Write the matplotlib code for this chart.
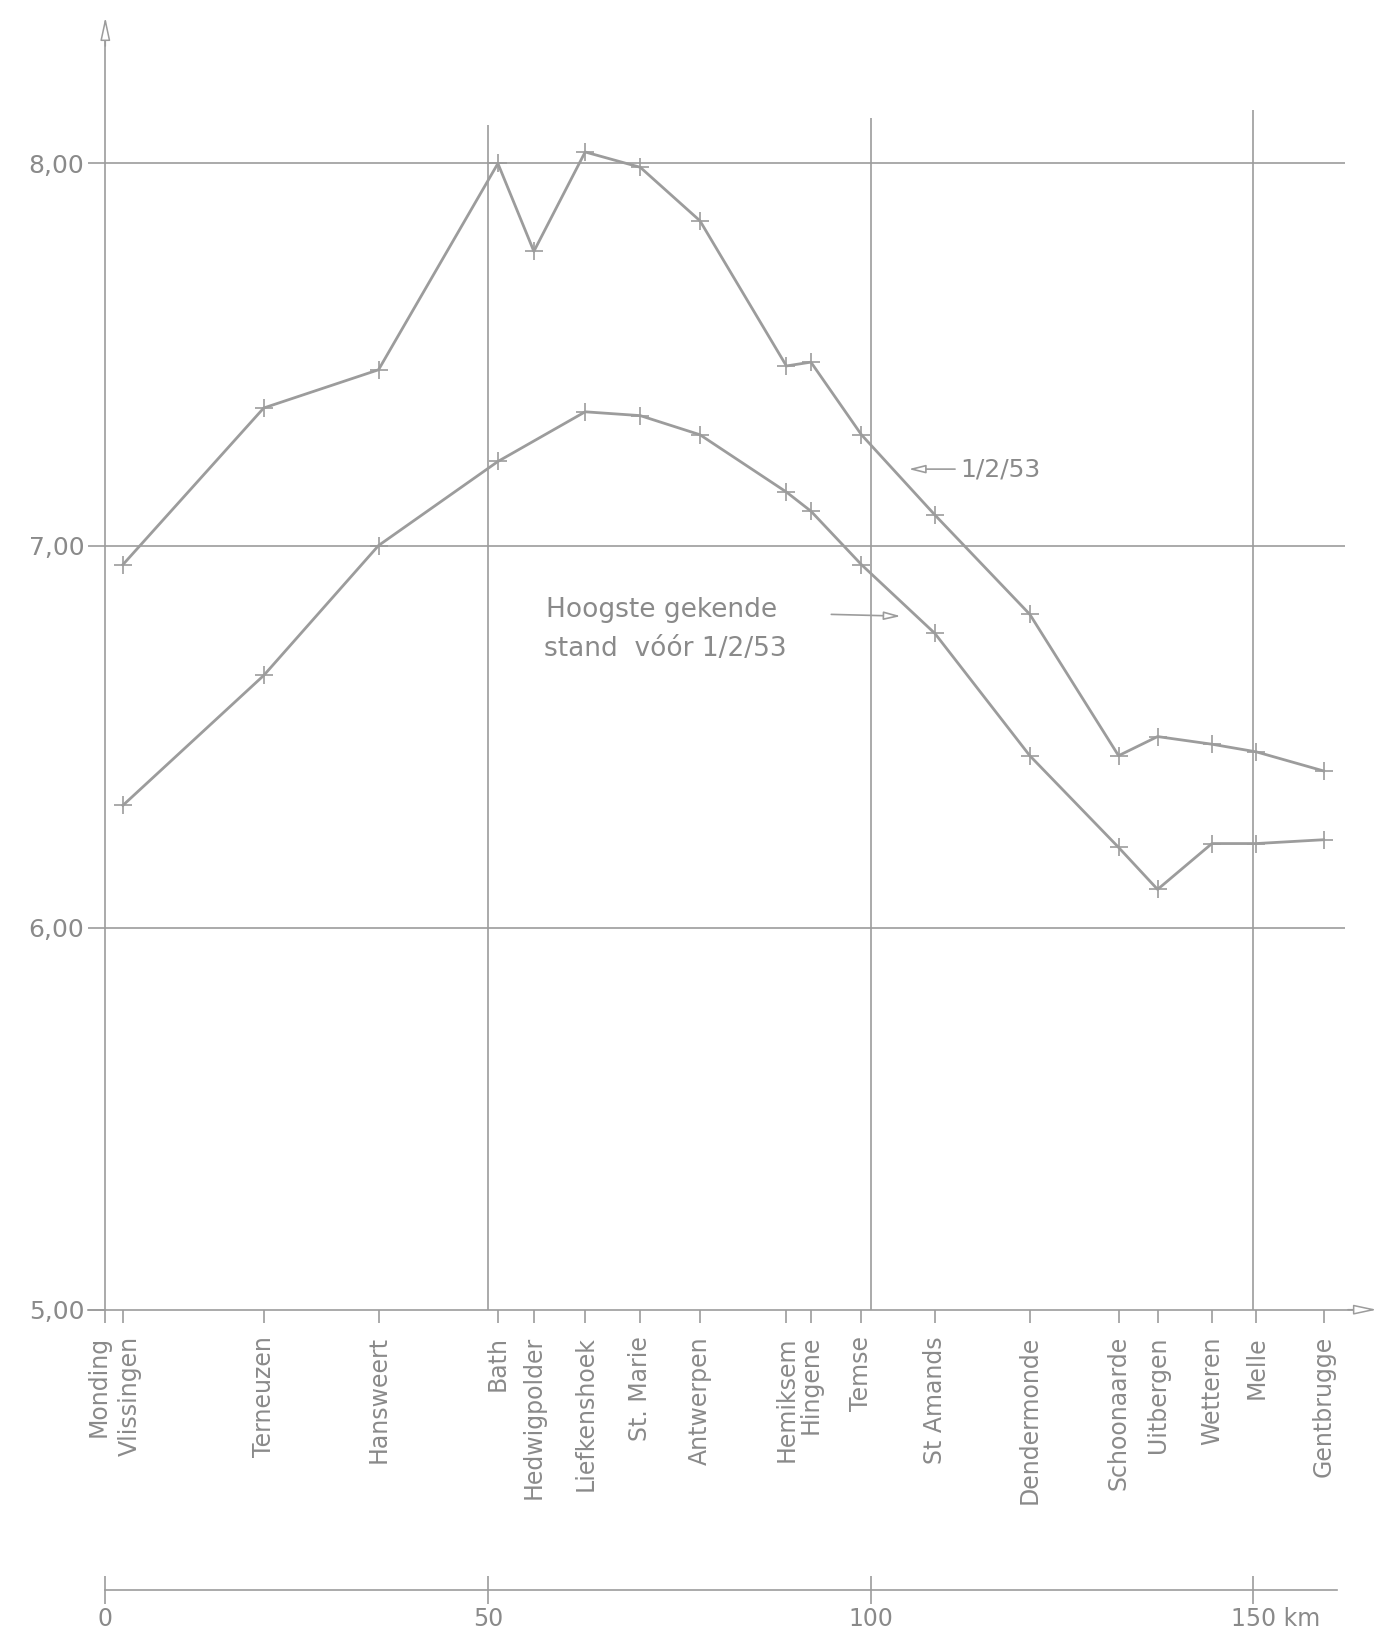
import numpy as np
import matplotlib
matplotlib.use("Agg")
import matplotlib.pyplot as plt
from matplotlib.transforms import ScaledTranslation

# stations along the Schelde, distance from the mouth (km)
stations = ["Monding", "Vlissingen", "Terneuzen", "Hansweert", "Bath",
            "Hedwigpolder", "Liefkenshoek", "St. Marie", "Antwerpen",
            "Hemiksem", "Hingene", "Temse", "St Amands", "Dendermonde",
            "Schoonaarde", "Uitbergen", "Wetteren", "Melle", "Gentbrugge"]
station_km = [0.0, 2.3, 20.7, 35.7, 51.3, 56.0, 62.7, 69.9, 77.7,
              89.0, 92.2, 98.8, 108.4, 120.8, 132.4, 137.5, 144.6, 150.4, 159.2]

# water levels (m)
level_1953 = [np.nan, 6.95, 7.36, 7.46, 8.00, 7.77, 8.03, 7.99, 7.85,
              7.47, 7.48, 7.29, 7.08, 6.82, 6.45, 6.50, 6.48, 6.46, 6.41]
level_before = [np.nan, 6.32, 6.66, 7.00, 7.22, np.nan, 7.35, 7.34, 7.29,
                7.14, 7.09, 6.95, 6.77, 6.45, 6.21, 6.10, 6.22, 6.22, 6.23]

y_ticks = [5, 6, 7, 8]
y_labels = ["5,00", "6,00", "7,00", "8,00"]
km_ticks = [0, 50, 100, 150]
km_labels = ["0", "50", "100", "150 km"]

line_col = "#9c9c9c"
text_col = "#8a8a8a"

fig = plt.figure(figsize=(13.91, 16.34), dpi=100)
ax = fig.add_axes([0.0482, 0.1938, 0.9518, 0.7997])
ax.set_xlim(-5, 168)
ax.set_ylim(4.98, 8.40)

for s in ["top", "right"]:
    ax.spines[s].set_visible(False)
ax.spines["left"].set_position(("data", 0))
ax.spines["left"].set_bounds(5, 8.34)
ax.spines["bottom"].set_position(("data", 5))
ax.spines["bottom"].set_bounds(-2.2, 164)
for s in ["left", "bottom"]:
    ax.spines[s].set_color(line_col)
    ax.spines[s].set_linewidth(1.2)

# axis arrows
head = "-|>,head_length=1.4,head_width=0.3"
ax.annotate("", xy=(0, 8.39), xytext=(0, 8.30),
            arrowprops=dict(arrowstyle=head, fc="white", ec=line_col, lw=1.1))
ax.annotate("", xy=(166.5, 5.0), xytext=(162, 5.0),
            arrowprops=dict(arrowstyle=head, fc="white", ec=line_col, lw=1.1))

# grid
ax.hlines([6, 7, 8], 0, 162, color=line_col, lw=1.2)
ax.vlines([50, 100, 150], 5, [8.10, 8.12, 8.14], color=line_col, lw=1.2)

ax.set_yticks(y_ticks, y_labels)
ax.set_xticks(station_km, stations, rotation=90)
ax.tick_params(axis="y", direction="out", length=12, width=1.2, pad=3,
               colors=line_col, labelcolor=text_col, labelsize=18)
ax.tick_params(axis="x", direction="out", length=9, width=1.2, pad=10,
               colors=line_col, labelcolor=text_col, labelsize=17)

# Monding / Vlissingen sit close together: spread their labels a little
xlabs = ax.get_xticklabels()
for lab, dx in ((xlabs[0], -5), (xlabs[1], 5)):
    lab.set_transform(lab.get_transform()
                      + ScaledTranslation(dx / 72, 0, fig.dpi_scale_trans))

# the two profiles
km = np.array(station_km)
for lev in (level_1953, level_before):
    lev = np.array(lev)
    ok = ~np.isnan(lev)
    ax.plot(km[ok], lev[ok], color=line_col, lw=2.0, marker="+",
            markersize=13, markeredgewidth=1.2)

# annotations
arr = dict(arrowstyle="-|>,head_length=1.0,head_width=0.25", fc="white",
           ec=line_col, lw=1.2)
ax.annotate("", xy=(104.6, 7.20), xytext=(111.4, 7.20), arrowprops=arr)
ax.text(111.7, 7.20, "1/2/53", ha="left", va="center", fontsize=18,
        color=text_col)
ax.text(57.6, 6.83, "Hoogste gekende", ha="left", va="center", fontsize=19,
        color=text_col)
ax.text(57.3, 6.73, "stand  vóór 1/2/53", ha="left", va="center",
        fontsize=19, color=text_col)
ax.annotate("", xy=(104.3, 6.815), xytext=(94.5, 6.82), arrowprops=arr)

# km scale bar
ax2 = fig.add_axes([0.0482, 0.0268, 0.9518, 0.001])
ax2.set_xlim(-5, 168)
ax2.patch.set_visible(False)
for s in ["top", "right", "left"]:
    ax2.spines[s].set_visible(False)
ax2.spines["bottom"].set_bounds(0, 161)
ax2.spines["bottom"].set_color(line_col)
ax2.spines["bottom"].set_linewidth(1.2)
ax2.set_yticks([])
ax2.set_xticks(km_ticks, km_labels)
ax2.tick_params(axis="x", direction="inout", length=20, width=1.2, pad=2,
                colors=line_col, labelcolor=text_col, labelsize=17)
last = ax2.get_xticklabels()[-1]
last.set_transform(last.get_transform()
                   + ScaledTranslation(16 / 72, 0, fig.dpi_scale_trans))

fig.savefig("out.png", dpi=100, facecolor="white")
